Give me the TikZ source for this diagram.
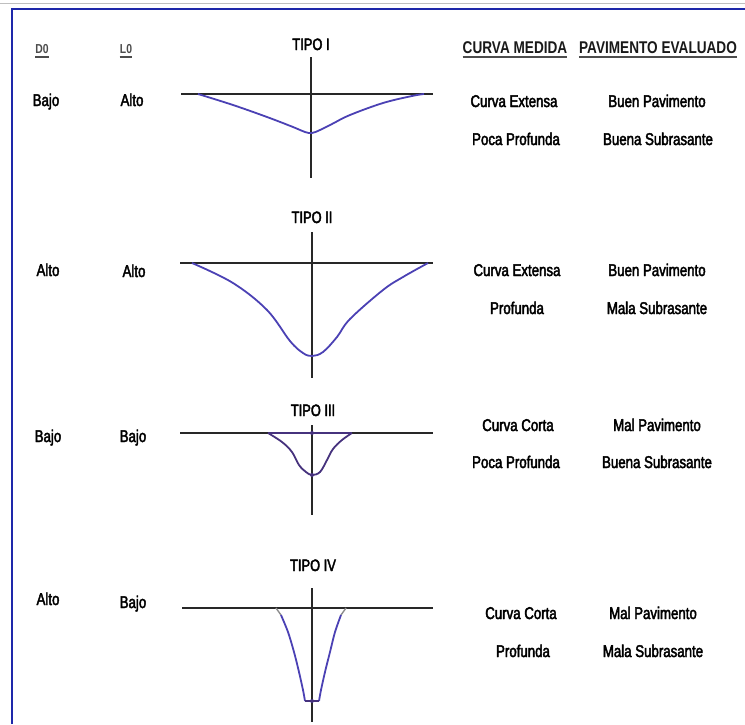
\documentclass[tikz,border=0pt]{standalone}
\usepackage{fontspec}
\setmainfont{Liberation Sans}[FakeStretch=0.8]
\newfontfamily\bodyfont{Liberation Sans}[FakeStretch=0.78, FakeBold=2.5]
\newfontfamily\headfont{Liberation Sans Bold}[FakeStretch=0.8]
\definecolor{frm}{RGB}{30,40,170}
\definecolor{crv}{RGB}{75,65,180}
\definecolor{crvd}{RGB}{70,50,125}
\definecolor{axc}{RGB}{40,40,40}
\begin{document}
\begin{tikzpicture}[x=1pt,y=-1pt,
  txt/.style={font=\bodyfont\fontsize{17}{19}\selectfont, inner sep=0pt, anchor=base, text=black},
  hd/.style={font=\headfont\fontsize{17}{19}\selectfont, inner sep=0pt, anchor=base, text=black!90},
  hdsmall/.style={font=\headfont\fontsize{13}{15}\selectfont, inner sep=0pt, anchor=base, text=black!70},
  tipo/.style={font=\bodyfont\fontsize{16.5}{18}\selectfont, inner sep=0pt, anchor=base, text=black},
  ul/.style={line width=2pt, draw=black!70},
  axis/.style={line width=1.3pt, draw=axc},
  curve/.style={line width=1.8pt, draw=crv, line join=round},
  curved/.style={line width=1.8pt, draw=crvd, line join=round},
  frame/.style={line width=2.2pt, draw=frm},
  dot/.style={circle, fill=crvd, inner sep=0pt, minimum size=4pt}]
\useasboundingbox (0,0) rectangle (745,724);
% frame
\draw[line width=1pt, draw=black!25] (0,3) -- (745,3);
\draw[frame] (12,724) -- (12,9) -- (745,9);

% headers
\node[hdsmall] (hD) at (42,53) {D0};
\node[hdsmall] (hL) at (126,53) {L0};
\node[hd] (hC) at (515,53) {CURVA MEDIDA};
\node[hd] (hP) at (658,53) {PAVIMENTO EVALUADO};
\foreach \n in {hD,hL,hC,hP}{
  \draw[ul] ([yshift=-4pt]\n.base west) -- ([yshift=-4pt]\n.base east);}

% TIPO labels
\node[tipo] (t1) at (311,50) {TIPO I};
\node[tipo] (t2) at (312,223) {TIPO II};
\node[tipo] (t3) at (313,416) {TIPO III};
\node[tipo] (t4) at (313,571) {TIPO IV};

% row 1
\node[txt] (d1) at (46,106) {Bajo};
\node[txt] (l1) at (132,106) {Alto};
\node[txt] (c1a) at (514,107) {Curva Extensa};
\node[txt] (p1a) at (657,107) {Buen Pavimento};
\node[txt] (c1b) at (516,145) {Poca Profunda};
\node[txt] (p1b) at (658,145) {Buena Subrasante};
% row 2
\node[txt] (d2) at (48,276) {Alto};
\node[txt] (l2) at (134,277) {Alto};
\node[txt] (c2a) at (517,276) {Curva Extensa};
\node[txt] (p2a) at (657,276) {Buen Pavimento};
\node[txt] (c2b) at (517,314) {Profunda};
\node[txt] (p2b) at (657,314) {Mala Subrasante};
% row 3
\node[txt] (d3) at (48,442) {Bajo};
\node[txt] (l3) at (133,442) {Bajo};
\node[txt] (c3a) at (518,431) {Curva Corta};
\node[txt] (p3a) at (657,431) {Mal Pavimento};
\node[txt] (c3b) at (516,468) {Poca Profunda};
\node[txt] (p3b) at (657,468) {Buena Subrasante};
% row 4
\node[txt] (d4) at (48,605) {Alto};
\node[txt] (l4) at (133,608) {Bajo};
\node[txt] (c4a) at (521,619) {Curva Corta};
\node[txt] (p4a) at (653,619) {Mal Pavimento};
\node[txt] (c4b) at (523,657) {Profunda};
\node[txt] (p4b) at (653,657) {Mala Subrasante};

% TIPO I
\draw[axis] (181,94) -- (433,94);
\draw[axis] (311,57) -- (311,178);
\draw[curve] plot[smooth, tension=0.6] coordinates {(198,94) (233,105) (267,117) (293,127) (305,132) (312,133) (320,130) (332,124) (350,115) (383,103) (412,96) (424,94)};

% TIPO II
\draw[axis] (180,263) -- (433,263);
\draw[axis] (312,232) -- (312,378);
\draw[curve] plot[smooth, tension=0.6] coordinates {(192,263) (233,283) (267,310) (290,341) (303,353) (312,356) (323,352) (337,337) (350,319) (383,290) (403,277) (428,263)};

% TIPO III
\draw[axis] (180,433) -- (433,433);
\draw[axis] (312,425) -- (312,515);
\draw[curved] (268,433) -- (352,433);
\draw[curved] plot[smooth, tension=0.6] coordinates {(268,433) (282,442) (292,452) (299,465) (306,472) (312,475) (320,472) (327,460) (333,449) (342,440) (352,433)};
\node[dot] (o3a) at (312,433) {};
\node[dot] (o3b) at (312,475) {};

% TIPO IV
\draw[axis] (182,608) -- (433,608);
\draw[axis] (312,588) -- (312,722);
\draw[line width=1.4pt, draw=black!45] (276,608) -- (281,615);
\draw[line width=1.4pt, draw=black!45] (346,608) -- (341,615);
\draw[curve] plot[smooth, tension=0.5] coordinates {(281,615) (288,632) (294,652) (299,672) (303,690) (305,701)};
\draw[curve] plot[smooth, tension=0.5] coordinates {(341,615) (335,632) (330,652) (325,672) (321,690) (319,701)};
\draw[line width=1.8pt, draw=crvd] (305,701) -- (319,701);
\node[dot] (o4) at (312,701) {};
\end{tikzpicture}
\end{document}
